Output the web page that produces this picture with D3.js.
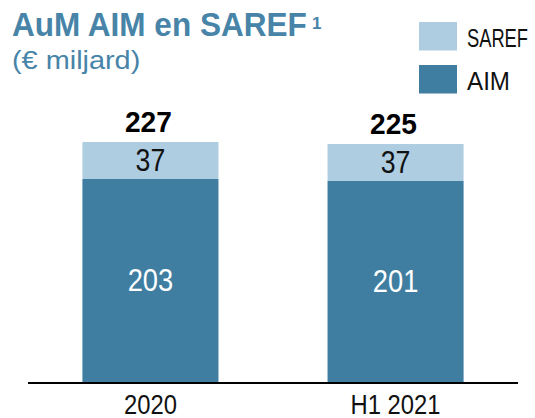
<!DOCTYPE html>
<html>
<head>
<meta charset="utf-8">
<script src="https://cdn.jsdelivr.net/npm/d3@7"></script>
<style>
  html, body { margin: 0; padding: 0; background: #fff; }
  svg { display: block; font-family: "Liberation Sans", Arial, sans-serif; }
</style>
</head>
<body>
<div id="chart"></div>
<script>
// data
const categories = ["2020", "H1 2021"];
const aimValues = [203, 201];
const sarefValues = [37, 37];
const totalLabels = ["227", "225"];
const seriesNames = ["SAREF", "AIM"];

const width = 535, height = 418;
const colors = { SAREF: "#aecde0", AIM: "#3f7ea1" };
const titleColor = "#4784a8";

const svg = d3.select("#chart").append("svg")
    .attr("width", width)
    .attr("height", height);

// squeeze text horizontally, the original uses a condensed face
function condense(sel, k) {
    sel.each(function () {
        const w = this.getComputedTextLength();
        d3.select(this).attr("textLength", w * k).attr("lengthAdjust", "spacingAndGlyphs");
    });
}

const x = d3.scaleBand()
    .domain(categories)
    .range([28, 518])
    .paddingInner(0.445)
    .paddingOuter(0.222);

const y = d3.scaleLinear()
    .domain([0, 240])
    .range([382, 142]);

const rows = categories.map((c, i) => ({
    cat: c, aim: aimValues[i], saref: sarefValues[i], total: totalLabels[i]
}));

// bars
const g = svg.append("g");

g.selectAll("rect.aim")
    .data(rows)
    .join("rect")
    .attr("class", "aim")
    .attr("x", d => x(d.cat))
    .attr("width", x.bandwidth())
    .attr("y", d => y(d.aim))
    .attr("height", d => y(0) - y(d.aim))
    .attr("fill", colors.AIM);

g.selectAll("rect.saref")
    .data(rows)
    .join("rect")
    .attr("class", "saref")
    .attr("x", d => x(d.cat))
    .attr("width", x.bandwidth())
    .attr("y", d => y(d.aim + d.saref))
    .attr("height", d => y(d.aim) - y(d.aim + d.saref))
    .attr("fill", colors.SAREF);

// segment labels
const aimLab = g.selectAll("text.aimv")
    .data(rows)
    .join("text")
    .attr("class", "aimv")
    .attr("x", d => x(d.cat) + x.bandwidth() / 2)
    .attr("y", d => (y(0) + y(d.aim)) / 2 + 10.5)
    .attr("text-anchor", "middle")
    .attr("font-size", 31)
    .attr("fill", "#fff")
    .text(d => d.aim);
condense(aimLab, 0.88);

const sarefLab = g.selectAll("text.sarefv")
    .data(rows)
    .join("text")
    .attr("class", "sarefv")
    .attr("x", d => x(d.cat) + x.bandwidth() / 2)
    .attr("y", d => (y(d.aim) + y(d.aim + d.saref)) / 2 + 10)
    .attr("text-anchor", "middle")
    .attr("font-size", 31)
    .attr("fill", "#111")
    .text(d => d.saref);
condense(sarefLab, 0.86);

const totLab = g.selectAll("text.tot")
    .data(rows)
    .join("text")
    .attr("class", "tot")
    .attr("x", d => x(d.cat) + x.bandwidth() / 2 - 2)
    .attr("y", d => y(d.aim + d.saref) - 10)
    .attr("text-anchor", "middle")
    .attr("font-size", 29)
    .attr("font-weight", "bold")
    .attr("fill", "#000")
    .text(d => d.total);
condense(totLab, 0.97);

// x axis
const xAxis = svg.append("g")
    .attr("transform", `translate(0,${y(0)})`)
    .call(d3.axisBottom(x).tickSize(0).tickPadding(0));
xAxis.select(".domain").attr("stroke", "#000").attr("stroke-width", 2).attr("d", "M28,1H518");
xAxis.selectAll(".tick text")
    .attr("y", 32)
    .attr("dy", null)
    .attr("font-size", 28)
    .attr("font-family", "Liberation Sans, Arial, sans-serif")
    .attr("fill", "#111");
condense(xAxis.selectAll(".tick text"), 0.85);

// title
const title = svg.append("text")
    .attr("x", 12)
    .attr("y", 36)
    .attr("font-size", 33)
    .attr("font-weight", "bold")
    .attr("fill", titleColor)
    .text("AuM AIM en SAREF");
condense(title, 0.955);
svg.append("text")
    .attr("x", 312)
    .attr("y", 28.5)
    .attr("font-size", 17)
    .attr("font-weight", "bold")
    .attr("fill", titleColor)
    .text("1");

const sub = svg.append("text")
    .attr("x", 12)
    .attr("y", 68.5)
    .attr("font-size", 26)
    .attr("fill", titleColor)
    .text("(€ miljard)");
condense(sub, 1.11);

// legend
const legendWidths = { SAREF: 61, AIM: 43 };
const leg = svg.append("g").attr("transform", "translate(419,22)");
const li = leg.selectAll("g")
    .data(seriesNames)
    .join("g")
    .attr("transform", (d, i) => `translate(0,${i * 43})`);
li.append("rect")
    .attr("width", 38)
    .attr("height", 28.5)
    .attr("fill", d => colors[d]);
li.append("text")
    .attr("x", 48)
    .attr("y", 25)
    .attr("font-size", 26)
    .attr("fill", "#111")
    .attr("textLength", d => legendWidths[d])
    .attr("lengthAdjust", "spacingAndGlyphs")
    .text(d => d);
</script>
</body>
</html>
